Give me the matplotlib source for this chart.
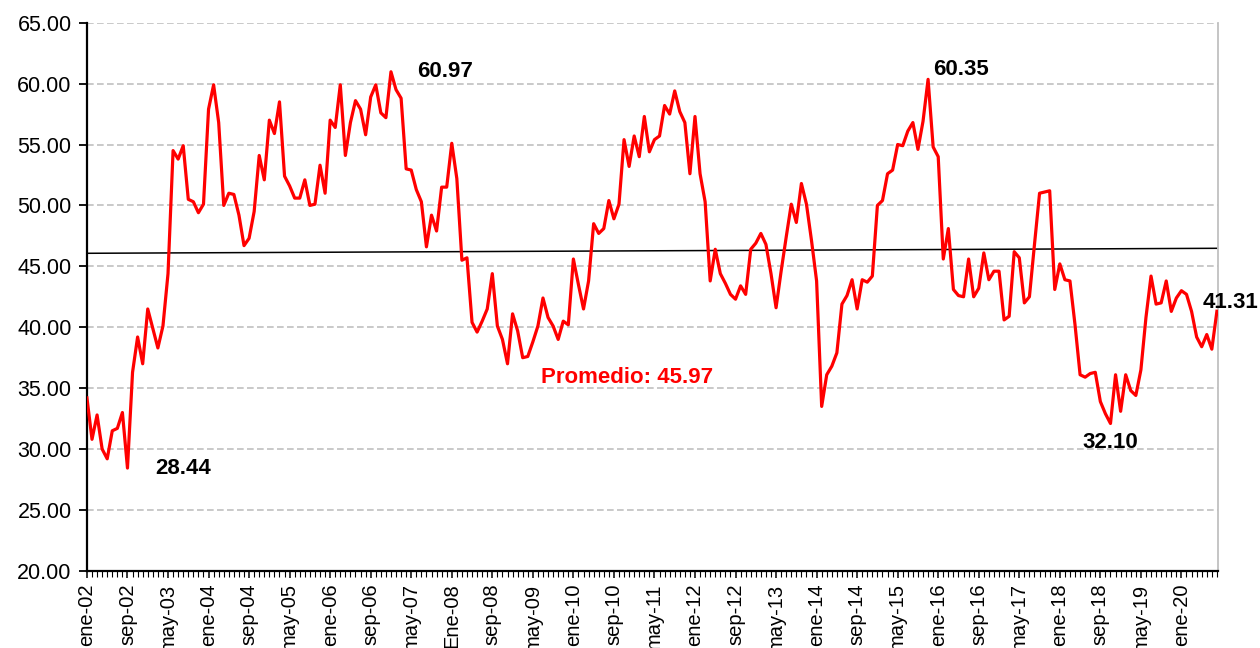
import numpy as np
import matplotlib
matplotlib.use("Agg")
import matplotlib.pyplot as plt
from matplotlib.ticker import FormatStrFormatter, MultipleLocator

plt.rcParams["font.family"] = ["Liberation Sans", "DejaVu Sans"]

# serie mensual ene-02 .. ago-20 (un renglon por año)
valores = [
    34.2, 30.8, 32.8, 30.0, 29.2, 31.5, 31.7, 33.0, 28.44, 36.3, 39.2, 37.0,
    41.5, 39.9, 38.3, 40.1, 44.4, 54.5, 53.8, 54.9, 50.5, 50.3, 49.4, 50.1,
    57.9, 59.9, 56.8, 50.0, 51.0, 50.9, 49.2, 46.7, 47.3, 49.5, 54.1, 52.1,
    57.0, 55.9, 58.5, 52.4, 51.6, 50.6, 50.6, 52.1, 50.0, 50.1, 53.3, 51.0,
    57.0, 56.4, 59.9, 54.1, 56.8, 58.6, 57.9, 55.8, 58.9, 59.9, 57.6, 57.2,
    60.97, 59.5, 58.8, 53.0, 52.9, 51.3, 50.3, 46.6, 49.2, 47.9, 51.5, 51.5,
    55.1, 52.2, 45.5, 45.7, 40.4, 39.6, 40.5, 41.5, 44.4, 40.1, 39.0, 37.0,
    41.1, 39.7, 37.5, 37.6, 38.8, 40.1, 42.4, 40.8, 40.1, 39.0, 40.5, 40.2,
    45.6, 43.5, 41.5, 43.8, 48.5, 47.7, 48.1, 50.4, 48.9, 50.1, 55.4, 53.2,
    55.7, 54.0, 57.3, 54.4, 55.4, 55.7, 58.2, 57.5, 59.4, 57.7, 56.8, 52.6,
    57.3, 52.6, 50.3, 43.8, 46.4, 44.4, 43.6, 42.7, 42.3, 43.4, 42.7, 46.4,
    46.9, 47.7, 46.8, 44.4, 41.6, 44.6, 47.4, 50.1, 48.6, 51.8, 50.1, 47.1,
    43.8, 33.5, 36.1, 36.8, 37.9, 41.9, 42.6, 43.9, 41.5, 43.9, 43.7, 44.2,
    50.0, 50.4, 52.6, 52.9, 55.0, 54.9, 56.1, 56.8, 54.6, 56.9, 60.35, 54.8,
    54.0, 45.6, 48.1, 43.1, 42.6, 42.5, 45.6, 42.5, 43.2, 46.1, 43.9, 44.6,
    44.6, 40.6, 40.9, 46.2, 45.7, 42.0, 42.5, 46.8, 51.0, 51.1, 51.2, 43.1,
    45.2, 43.9, 43.8, 40.2, 36.1, 35.9, 36.2, 36.3, 33.9, 32.9, 32.10, 36.1,
    33.1, 36.1, 34.8, 34.4, 36.5, 40.8, 44.2, 41.9, 42.0, 43.8, 41.3, 42.4,
    43.0, 42.7, 41.3, 39.2, 38.4, 39.4, 38.2, 41.31,
]

etiquetas_x = [
    "ene-02", "sep-02", "may-03", "ene-04", "sep-04", "may-05", "ene-06",
    "sep-06", "may-07", "Ene-08", "sep-08", "may-09", "ene-10", "sep-10",
    "may-11", "ene-12", "sep-12", "may-13", "ene-14", "sep-14", "may-15",
    "ene-16", "sep-16", "may-17", "ene-18", "sep-18", "may-19", "ene-20",
]

tendencia = [46.07, 46.48]   # linea negra (inicio, fin)
promedio = 45.97

# puntos etiquetados: indice del mes y desplazamiento del texto (pt)
destacados = [8, 60, 166, 202, 223]
desplaz = [(40, 0), (39, 0), (24, 7), (0, -14), (-10, 6)]
alinea = ["center", "center", "center", "center", "left"]

x = np.arange(len(valores))

fig = plt.figure(figsize=(12.6, 6.48), dpi=100)
ax = fig.add_axes([0.069, 0.119, 0.898, 0.846])

ax.plot(x, valores, color="#ff0000", lw=2.3, zorder=3)
ax.plot([x[0], x[-1]], tendencia, color="black", lw=1.1, zorder=2)

for i, off, ha in zip(destacados, desplaz, alinea):
    ax.annotate(f"{valores[i]:.2f}", (x[i], valores[i]), xytext=off,
                textcoords="offset points", ha=ha, va="center",
                fontsize=16, fontweight="bold", color="black",
                annotation_clip=False)

ax.text(106.5, 35.9, f"Promedio: {promedio:.2f}", color="#ff0000",
        fontsize=16, fontweight="bold", ha="center", va="center")

ax.set_ylim(20, 65)
ax.set_xlim(0, 223.3)
ax.yaxis.set_major_locator(MultipleLocator(5))
ax.yaxis.set_major_formatter(FormatStrFormatter("%.2f"))
ax.yaxis.grid(True, color="#c0c0c0", lw=1.2, linestyle=(0, (4, 2)))
ax.set_axisbelow(True)

ax.set_xticks(x[::8])
ax.set_xticklabels(etiquetas_x, rotation=90, va="top", ha="center")
ax.set_xticks(x, minor=True)

ax.tick_params(axis="y", labelsize=15.5, length=6, width=1.3, pad=5)
ax.tick_params(axis="x", which="major", labelsize=14.5, length=5, width=1.1, pad=4)
ax.tick_params(axis="x", which="minor", length=4, width=0.8)

ax.spines["top"].set_visible(False)
ax.spines["right"].set_color("#c0c0c0")
ax.spines["right"].set_linewidth(1.3)
ax.spines["left"].set_linewidth(1.6)
ax.spines["bottom"].set_linewidth(1.6)

fig.savefig("out.png", dpi=100)
